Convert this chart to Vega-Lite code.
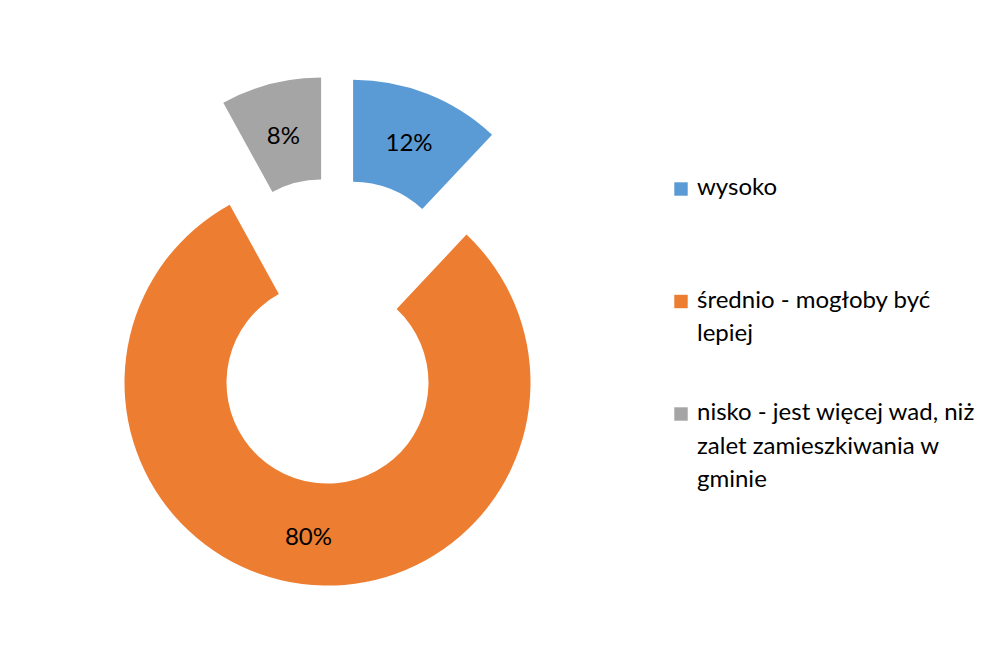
{
  "$schema": "https://vega.github.io/schema/vega-lite/v6.json",
  "width": 668,
  "height": 640,
  "autosize": {"type": "none"},
  "padding": {"left": 0, "top": 11, "right": 328, "bottom": 0},
  "background": "white",
  "config": {
    "view": {"stroke": null},
    "font": "Lato",
    "style": {"guide-label": {"lineHeight": 33.5, "dy": 6}}
  },
  "data": {
    "values": [
      {"kategoria": "wysoko", "udzial": 0.12, "kolejnosc": 1},
      {"kategoria": "średnio - mogłoby być lepiej", "udzial": 0.80, "kolejnosc": 2},
      {"kategoria": "nisko - jest więcej wad, niż zalet zamieszkiwania w gminie", "udzial": 0.08, "kolejnosc": 3}
    ]
  },
  "encoding": {
    "theta": {"field": "udzial", "type": "quantitative", "stack": true},
    "order": {"field": "kolejnosc", "type": "quantitative"},
    "color": {
      "field": "kategoria",
      "type": "nominal",
      "sort": ["wysoko", "średnio - mogłoby być lepiej", "nisko - jest więcej wad, niż zalet zamieszkiwania w gminie"],
      "scale": {
        "domain": ["wysoko", "średnio - mogłoby być lepiej", "nisko - jest więcej wad, niż zalet zamieszkiwania w gminie"],
        "range": ["#5B9BD5", "#ED7D31", "#A5A5A5"]
      },
      "legend": {
        "title": null,
        "orient": "none",
        "legendX": 669,
        "legendY": 166,
        "padding": 0,
        "symbolType": "square",
        "symbolSize": 180,
        "symbolStrokeWidth": 0,
        "labelFont": "Lato",
        "labelFontSize": 24,
        "labelColor": "#000000",
        "labelLimit": 400,
        "labelOffset": 4,
        "labelBaseline": "alphabetic",
        "rowPadding": 21.5,
        "gridAlign": "all",
        "labelExpr": "datum.label == 'wysoko' ? 'wysoko' : (datum.label == 'średnio - mogłoby być lepiej' ? ['średnio - mogłoby być', 'lepiej'] : ['nisko - jest więcej wad, niż', 'zalet zamieszkiwania w', 'gminie'])"
      }
    }
  },
  "layer": [
    {
      "mark": {"type": "arc", "radius": 203, "radius2": 101, "xOffset": 19.1, "yOffset": -48.3},
      "encoding": {"opacity": {"condition": {"test": "datum.kategoria === 'wysoko'", "value": 1}, "value": 0}}
    },
    {
      "mark": {"type": "arc", "radius": 203, "radius2": 101, "xOffset": -6.5, "yOffset": 51.6},
      "encoding": {"opacity": {"condition": {"test": "datum.kategoria === 'średnio - mogłoby być lepiej'", "value": 1}, "value": 0}}
    },
    {
      "mark": {"type": "arc", "radius": 203, "radius2": 101, "xOffset": -12.9, "yOffset": -50.4},
      "encoding": {"opacity": {"condition": {"test": "datum.kategoria === 'nisko - jest więcej wad, niż zalet zamieszkiwania w gminie'", "value": 1}, "value": 0}}
    },
    {
      "mark": {"type": "text", "radius": 152, "xOffset": 19.1, "yOffset": -48.3, "dy": 3, "fontSize": 24, "font": "Lato"},
      "encoding": {
        "text": {"field": "udzial", "type": "quantitative", "format": ".0%"},
        "color": {"value": "#000000"},
        "detail": {"field": "kategoria", "type": "nominal"},
        "opacity": {"condition": {"test": "datum.kategoria === 'wysoko'", "value": 1}, "value": 0}
      }
    },
    {
      "mark": {"type": "text", "radius": 152, "xOffset": -6.5, "yOffset": 51.6, "dy": 5, "fontSize": 24, "font": "Lato"},
      "encoding": {
        "text": {"field": "udzial", "type": "quantitative", "format": ".0%"},
        "color": {"value": "#000000"},
        "detail": {"field": "kategoria", "type": "nominal"},
        "opacity": {"condition": {"test": "datum.kategoria === 'średnio - mogłoby być lepiej'", "value": 1}, "value": 0}
      }
    },
    {
      "mark": {"type": "text", "radius": 152, "xOffset": -12.9, "yOffset": -50.4, "dy": 4, "fontSize": 24, "font": "Lato"},
      "encoding": {
        "text": {"field": "udzial", "type": "quantitative", "format": ".0%"},
        "color": {"value": "#000000"},
        "detail": {"field": "kategoria", "type": "nominal"},
        "opacity": {"condition": {"test": "datum.kategoria === 'nisko - jest więcej wad, niż zalet zamieszkiwania w gminie'", "value": 1}, "value": 0}
      }
    }
  ]
}
